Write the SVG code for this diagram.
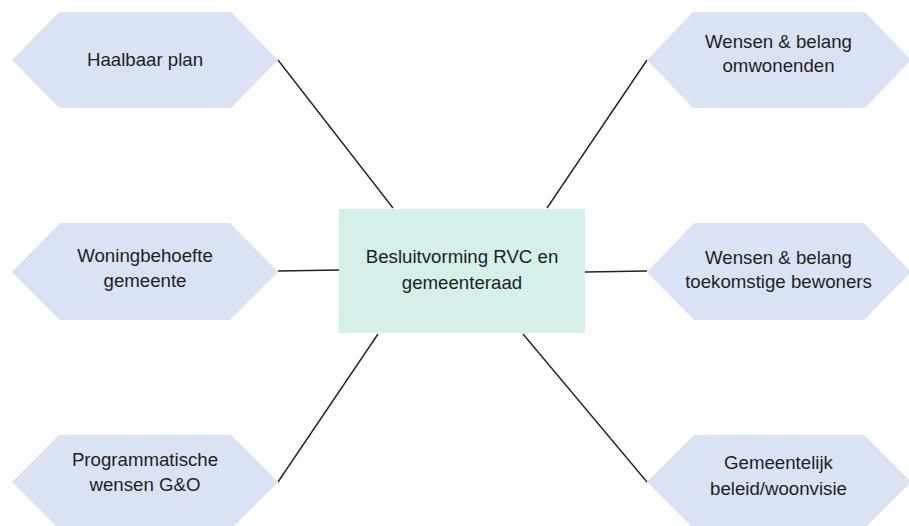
<svg xmlns="http://www.w3.org/2000/svg" width="909" height="526" viewBox="0 0 909 526">
  <style>
    .hex { fill: #dae3f4; }
    .center { fill: #d5efea; }
    .lbl { font-family: "Liberation Sans", Arial, sans-serif; font-size: 18.67px; fill: #1f1f1f; text-anchor: middle; }
    .conn { stroke: #222222; stroke-width: 1.4; fill: none; }
  </style>
  <rect width="909" height="526" fill="#ffffff"/>
  <g id="connectors">
    <line class="conn" x1="278" y1="60" x2="393" y2="208"/>
    <line class="conn" x1="647" y1="60" x2="547" y2="208"/>
    <line class="conn" x1="278" y1="271" x2="339" y2="270"/>
    <line class="conn" x1="585" y1="272" x2="647" y2="271"/>
    <line class="conn" x1="378" y1="334" x2="278" y2="482"/>
    <line class="conn" x1="523" y1="334" x2="647" y2="482"/>
  </g>
  <g id="center">
    <rect class="center" x="339" y="209" width="246" height="124"/>
    <text class="lbl" x="462" y="263">Besluitvorming RVC en</text>
    <text class="lbl" x="462" y="289">gemeenteraad</text>
  </g>
  <g id="haalbaar-plan">
    <polygon class="hex" points="12,60 59,12 231,12 278,60 231,108 59,108"/>
    <text class="lbl" x="145" y="66">Haalbaar plan</text>
  </g>
  <g id="woningbehoefte">
    <polygon class="hex" points="12,272 60,223 230,223 278,272 230,320 60,320"/>
    <text class="lbl" x="145" y="262">Woningbehoefte</text>
    <text class="lbl" x="145" y="287">gemeente</text>
  </g>
  <g id="programmatische">
    <polygon class="hex" points="12,482 59,435 231,435 278,482 231,529 59,529"/>
    <text class="lbl" x="145" y="466">Programmatische</text>
    <text class="lbl" x="145" y="491">wensen G&amp;O</text>
  </g>
  <g id="omwonenden">
    <polygon class="hex" points="647,60 693,12 865,12 911,60 865,108 693,108"/>
    <text class="lbl" x="778.5" y="48">Wensen &amp; belang</text>
    <text class="lbl" x="778.5" y="72">omwonenden</text>
  </g>
  <g id="toekomstige">
    <polygon class="hex" points="647,272 694,223 864,223 911,272 864,320 694,320"/>
    <text class="lbl" x="778.5" y="264">Wensen &amp; belang</text>
    <text class="lbl" x="778.5" y="288">toekomstige bewoners</text>
  </g>
  <g id="gemeentelijk">
    <polygon class="hex" points="647,482 694,435 864,435 911,482 864,529 694,529"/>
    <text class="lbl" x="778.5" y="469">Gemeentelijk</text>
    <text class="lbl" x="778.5" y="495">beleid/woonvisie</text>
  </g>
</svg>
